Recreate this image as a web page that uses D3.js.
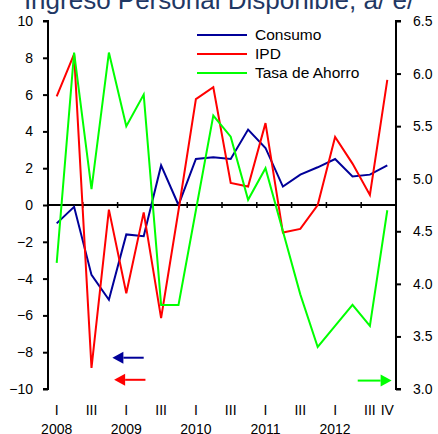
<!DOCTYPE html>
<html>
<head>
<meta charset="utf-8">
<script src="https://cdn.jsdelivr.net/npm/d3@7"></script>
<style>
  body { margin: 0; background: #fff; }
  svg { display: block; font-family: "Liberation Sans", Arial, sans-serif; }
</style>
</head>
<body>
<svg id="chart" width="438" height="434"></svg>
<script>
// Quarters 2008 I .. 2012 IV
const quarters = d3.range(20);
const quarterLabels = ["I", "", "III", "", "I", "", "III", "", "I", "", "III", "", "I", "", "III", "", "I", "", "III", "IV"];
const yearLabels = ["2008", "", "", "", "2009", "", "", "", "2010", "", "", "", "2011", "", "", "", "2012", "", "", ""];

const consumo = [-1.0, -0.1, -3.8, -5.15, -1.6, -1.7, 2.15, 0.0, 2.5, 2.6, 2.5, 4.1, 3.1, 1.0, 1.65, 2.05, 2.5, 1.55, 1.65, 2.15];
const ipd = [5.9, 8.2, -8.85, -0.25, -4.8, -0.4, -6.15, -0.3, 5.75, 6.4, 1.2, 1.0, 4.45, -1.5, -1.3, 0.0, 3.7, 2.25, 0.55, 6.8];
const ahorro = [4.2, 6.2, 4.9, 6.2, 5.5, 5.8, 3.8, 3.8, 4.7, 5.6, 5.4, 4.8, 5.1, 4.5, 3.9, 3.4, 3.6, 3.8, 3.6, 4.7];

const leftTicks = [-10, -8, -6, -4, -2, 0, 2, 4, 6, 8, 10];
const rightTicks = [3.0, 3.5, 4.0, 4.5, 5.0, 5.5, 6.0, 6.5];

const series = [
  { name: "Consumo", values: consumo, color: "#000099", axis: "left" },
  { name: "IPD", values: ipd, color: "#ff0000", axis: "left" },
  { name: "Tasa de Ahorro", values: ahorro, color: "#00ff00", axis: "right" }
];

const svg = d3.select("#chart");
const width = 438, height = 434;
const margin = { top: 21, right: 42, bottom: 45, left: 48 };

const x = d3.scaleLinear().domain([-0.5, 19.5]).range([margin.left, width - margin.right]);
const yL = d3.scaleLinear().domain([-10, 10]).range([height - margin.bottom, margin.top]);
const yR = d3.scaleLinear().domain([3, 6.5]).range([height - margin.bottom, margin.top]);

// title (cut off at top, as in the original)
svg.append("text")
  .attr("x", 219).attr("y", 9)
  .attr("text-anchor", "middle")
  .attr("font-size", 26)
  .attr("fill", "#1f3864")
  .text("Ingreso Personal Disponible, a/ e/");

// left axis
const axL = svg.append("g")
  .attr("transform", `translate(${margin.left},0)`)
  .call(d3.axisLeft(yL).tickValues(leftTicks).tickSize(5).tickPadding(10).tickFormat(d3.format("d")));
axL.select(".domain").attr("stroke-width", 2).attr("d", `M-5,${yL(10)}H0V${yL(-10)}H-5`);
axL.selectAll(".tick line").attr("stroke-width", 2);
axL.selectAll("text").attr("font-size", 14).attr("fill", "#000");

// right axis
const axR = svg.append("g")
  .attr("transform", `translate(${width - margin.right},0)`)
  .call(d3.axisRight(yR).tickValues(rightTicks).tickSize(5).tickPadding(12).tickFormat(d3.format(".1f")));
axR.select(".domain").attr("stroke-width", 2).attr("d", `M5,${yR(6.5)}H0V${yR(3)}H5`);
axR.selectAll(".tick line").attr("stroke-width", 2);
axR.selectAll("text").attr("font-size", 14).attr("fill", "#000");

// horizontal zero axis with semester ticks
const ax0 = svg.append("g");
ax0.append("line")
  .attr("x1", x(-0.5)).attr("x2", x(19.5))
  .attr("y1", yL(0)).attr("y2", yL(0))
  .attr("stroke", "#000").attr("stroke-width", 2);
ax0.selectAll(".qt")
  .data(quarters.filter(d => d > 0 && d % 2 === 0))
  .join("line")
  .attr("x1", d => x(d - 0.5)).attr("x2", d => x(d - 0.5))
  .attr("y1", yL(0) - 3).attr("y2", yL(0) + 3)
  .attr("stroke", "#000").attr("stroke-width", 1.5);

// category labels
svg.append("g").selectAll("text")
  .data(quarters)
  .join("text")
  .attr("x", d => x(d)).attr("y", 415)
  .attr("text-anchor", "middle").attr("font-size", 14)
  .text(d => quarterLabels[d]);
svg.append("g").selectAll("text")
  .data(quarters)
  .join("text")
  .attr("x", d => x(d)).attr("y", 434)
  .attr("text-anchor", "middle").attr("font-size", 14)
  .text(d => yearLabels[d]);

// lines
series.forEach(s => {
  const yy = s.axis === "left" ? yL : yR;
  const line = d3.line().x((d, i) => x(i)).y(d => yy(d));
  svg.append("path")
    .datum(s.values)
    .attr("fill", "none")
    .attr("stroke", s.color)
    .attr("stroke-width", 2)
    .attr("stroke-linejoin", "miter")
    .attr("d", line);
});

// arrows showing which axis each series uses
const arrows = [
  { from: 5.0, to: 3.2, value: -8.3, scale: yL, color: "#000099" },
  { from: 5.1, to: 3.3, value: -9.5, scale: yL, color: "#ff0000" },
  { from: 17.3, to: 19.25, value: 3.08, scale: yR, color: "#00ff00" }
];
arrows.forEach(a => {
  const x0 = x(a.from), x1 = x(a.to), yv = a.scale(a.value);
  const dir = Math.sign(x1 - x0);
  const head = 11;
  svg.append("line")
    .attr("x1", x0).attr("x2", x1 - dir * head)
    .attr("y1", yv).attr("y2", yv)
    .attr("stroke", a.color).attr("stroke-width", 2);
  svg.append("path")
    .attr("d", `M${x1},${yv}L${x1 - dir * head},${yv - 6}L${x1 - dir * head},${yv + 6}Z`)
    .attr("fill", a.color);
});

// legend
const legend = svg.append("g").attr("transform", "translate(197,35)");
series.forEach((s, i) => {
  const g = legend.append("g").attr("transform", `translate(0,${i * 19})`);
  g.append("line").attr("x1", 0).attr("x2", 50).attr("stroke", s.color).attr("stroke-width", 2);
  g.append("text").attr("x", 58).attr("dy", "0.35em").attr("font-size", 15.5).text(s.name);
});
</script>
</body>
</html>
